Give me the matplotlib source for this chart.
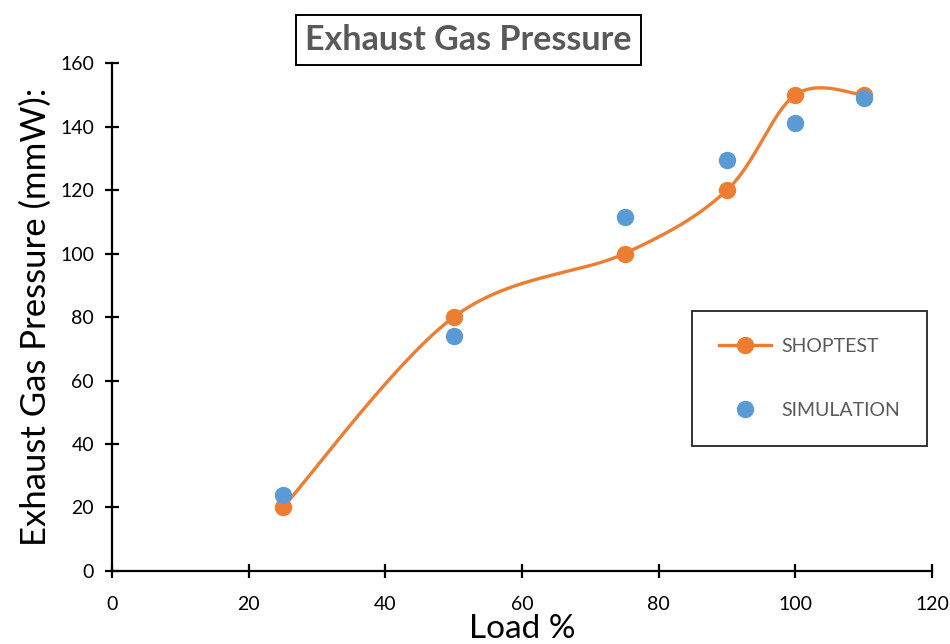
import numpy as np
import matplotlib
matplotlib.use("Agg")
import matplotlib.pyplot as plt
from matplotlib.lines import Line2D

plt.rcParams['font.family'] = ['Lato', 'DejaVu Sans']

load = [25, 50, 75, 90, 100, 110]
shoptest = [20, 80, 100, 120, 150, 150]
simulation = [24, 74, 111.5, 129.5, 141, 149]

x_ticks = [0, 20, 40, 60, 80, 100, 120]
y_ticks = [0, 20, 40, 60, 80, 100, 120, 140, 160]

ORANGE = "#ED7D31"
BLUE = "#5B9BD5"
GREY = "#595959"


def smooth_curve(xs, ys, n=60):
    """Cubic Bezier smoothing through every point (spreadsheet-style)."""
    xs = np.asarray(xs, float)
    ys = np.asarray(ys, float)
    px = np.concatenate([[xs[0]], xs, [xs[-1]]])
    py = np.concatenate([[ys[0]], ys, [ys[-1]]])
    t = np.linspace(0, 1, n)[:, None]
    out_x, out_y = [], []
    for i in range(1, len(px) - 2):
        p0 = np.array([px[i], py[i]])
        p3 = np.array([px[i + 1], py[i + 1]])
        c1 = p0 + (np.array([px[i + 1], py[i + 1]]) - np.array([px[i - 1], py[i - 1]])) / 6
        c2 = p3 - (np.array([px[i + 2], py[i + 2]]) - np.array([px[i], py[i]])) / 6
        pts = ((1 - t) ** 3) * p0 + 3 * ((1 - t) ** 2) * t * c1 + 3 * (1 - t) * t ** 2 * c2 + t ** 3 * p3
        out_x.extend(pts[:, 0])
        out_y.extend(pts[:, 1])
    return np.array(out_x), np.array(out_y)


fig = plt.figure(figsize=(9.5, 6.44), dpi=100)
ax = fig.add_axes([0.118, 0.1134, 0.863, 0.7886])

sx, sy = smooth_curve(load, shoptest)
ax.plot(sx, sy, color=ORANGE, lw=2.4, zorder=2, solid_capstyle='round')
ax.plot(load, shoptest, 'o', color=ORANGE, ms=11.5, zorder=3)
ax.plot(load, simulation, 'o', color=BLUE, ms=11.5, zorder=4)

ax.set_xlim(0, 120)
ax.set_ylim(0, 160)
ax.set_xticks(x_ticks)
ax.set_yticks(y_ticks)
for side in ("top", "right"):
    ax.spines[side].set_visible(False)
for side in ("left", "bottom"):
    ax.spines[side].set_linewidth(1.6)
    ax.spines[side].set_color("black")
ax.tick_params(direction="inout", length=10, width=1.6, labelsize=14,
               colors="black", pad=8)
ax.tick_params(axis="x", pad=13)

ax.set_xlabel("Load %", fontsize=24, va="center")
ax.xaxis.set_label_coords(0.5, -0.114)
ax.set_ylabel("Exhaust Gas Pressure (mmW):", fontsize=25, labelpad=6)

fig.text(0.493, 0.938, "Exhaust Gas Pressure", ha="center", va="center",
         fontsize=24.5, fontweight="bold", color=GREY,
         bbox=dict(boxstyle="square,pad=0.27", fc="white", ec="black", lw=1.4))

handles = [
    Line2D([], [], color=ORANGE, lw=2.4, marker='o', ms=11.5),
    Line2D([], [], color=BLUE, lw=0, marker='o', ms=11.5),
]
leg = ax.legend(handles, ["SHOPTEST", "SIMULATION"],
                loc="upper left", bbox_to_anchor=(0.707, 0.512),
                frameon=True, fancybox=False, edgecolor="black",
                fontsize=14, labelcolor=GREY, labelspacing=2.4,
                borderpad=1.4, handlelength=2.7, handletextpad=0.5,
                borderaxespad=0)
leg.get_frame().set_linewidth(1.4)

fig.savefig("out.png", dpi=100)
